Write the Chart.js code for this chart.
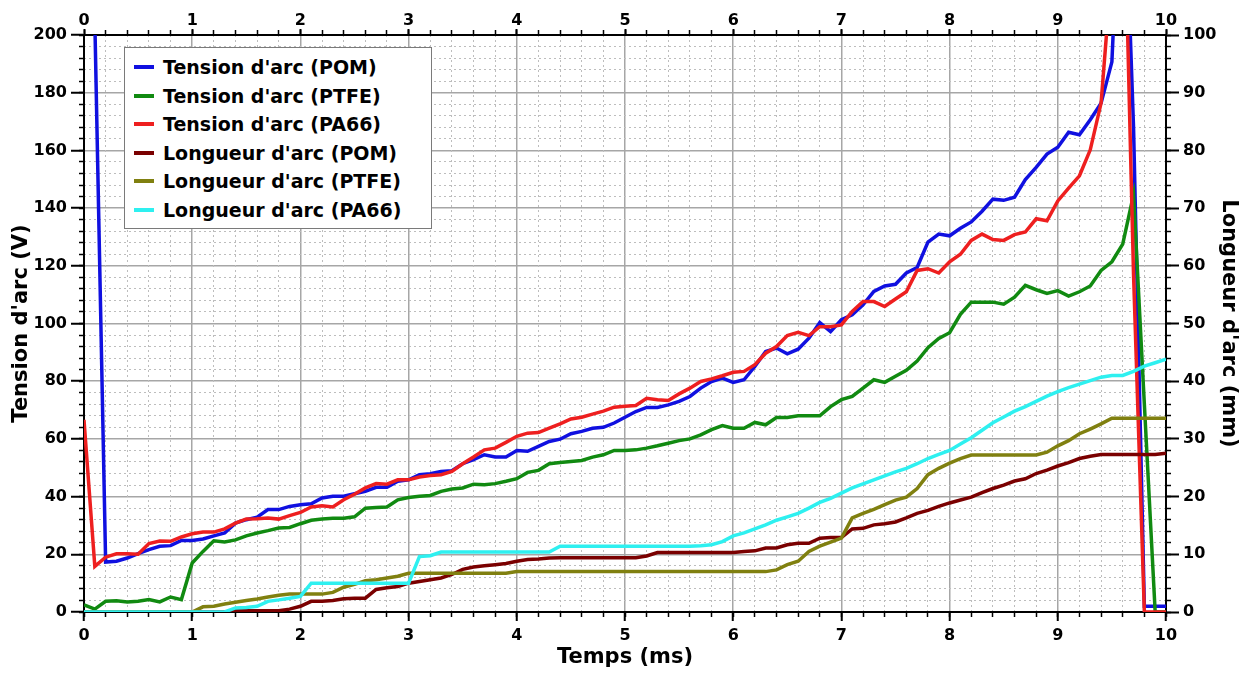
<!DOCTYPE html>
<html>
<head>
<meta charset="utf-8">
<script src="https://cdn.jsdelivr.net/npm/chart.js@4/dist/chart.umd.min.js"></script>
<style>
  html, body { margin: 0; padding: 0; background: #fff; }
  #wrap { position: relative; width: 1242px; height: 674px; }
  #legend {
    position: absolute; left: 124px; top: 47px; width: 308px; height: 182px;
    box-sizing: border-box; border: 1.5px solid #7a7a7a; background: #fff;
    padding-top: 5px; font: bold 19px 'DejaVu Sans', sans-serif; color: #000;
  }
  .item { position: relative; height: 28.6px; line-height: 28.6px; padding-left: 38px; white-space: nowrap; }
  .swatch { position: absolute; left: 9px; top: 12px; width: 20px; height: 4px; }
</style>
</head>
<body>
<div id="wrap">
  <canvas id="arc-chart"></canvas>
  <div id="legend"></div>
</div>
<script>
// Temps (ms)
const times = [
  0, 0.1, 0.2, 0.3, 0.4, 0.5, 0.6, 0.7, 0.8, 0.9,
  1, 1.1, 1.2, 1.3, 1.4, 1.5, 1.6, 1.7, 1.8, 1.9,
  2, 2.1, 2.2, 2.3, 2.4, 2.5, 2.6, 2.7, 2.8, 2.9,
  3, 3.1, 3.2, 3.3, 3.4, 3.5, 3.6, 3.7, 3.8, 3.9,
  4, 4.1, 4.2, 4.3, 4.4, 4.5, 4.6, 4.7, 4.8, 4.9,
  5, 5.1, 5.2, 5.3, 5.4, 5.5, 5.6, 5.7, 5.8, 5.9,
  6, 6.1, 6.2, 6.3, 6.4, 6.5, 6.6, 6.7, 6.8, 6.9,
  7, 7.1, 7.2, 7.3, 7.4, 7.5, 7.6, 7.7, 7.8, 7.9,
  8, 8.1, 8.2, 8.3, 8.4, 8.5, 8.6, 8.7, 8.8, 8.9,
  9, 9.1, 9.2, 9.3, 9.4, 9.5, 9.6, 9.7, 9.8, 9.9,
  10
];

// Tension d'arc (V)
const tensionPOM = [
  240, 205, 17.3, 17.6, 18.7, 20.2, 21.6, 22.8, 23, 24.8,
  24.8, 25.3, 26.4, 27.4, 30.8, 32, 32.9, 35.5, 35.5, 36.6,
  37.2, 37.5, 39.5, 40.1, 40.1, 41, 41.8, 43.2, 43.2, 45.3,
  45.8, 47.6, 47.9, 48.7, 49, 51.4, 52.8, 54.5, 53.7, 53.7,
  56, 55.7, 57.4, 59.1, 59.9, 61.8, 62.6, 63.7, 64, 65.5,
  67.5, 69.5, 70.9, 70.9, 71.8, 73, 74.7, 77.6, 79.9, 81.1,
  79.6, 80.5, 85.1, 90.3, 91.5, 89.5, 91.1, 94.9, 100.3, 97.2,
  101.3, 103, 106.5, 111.1, 113, 113.6, 117.5, 119.4, 128.2, 131,
  130.4, 133, 135.2, 138.9, 143.1, 142.7, 143.8, 149.9, 154.1, 158.7,
  161.1, 166.3, 165.4, 170.6, 176.4, 190.7, 275, 168, 2, 2,
  2
];
const tensionPTFE = [
  2.5, 1, 3.7, 3.9, 3.5, 3.7, 4.3, 3.5, 5.2, 4.3,
  17, 21, 24.7, 24.3, 25, 26.4, 27.4, 28.2, 29.1, 29.3,
  30.6, 31.8, 32.2, 32.5, 32.5, 33, 36, 36.2, 36.4, 38.9,
  39.7, 40.1, 40.4, 41.8, 42.6, 43, 44.3, 44.1, 44.5, 45.3,
  46.2, 48.4, 49.1, 51.4, 51.8, 52.2, 52.5, 53.7, 54.5, 56,
  56, 56.2, 56.8, 57.6, 58.5, 59.4, 60, 61.4, 63.2, 64.6,
  63.7, 63.7, 65.7, 64.9, 67.4, 67.4, 68, 68, 68, 71.2,
  73.6, 74.7, 77.6, 80.5, 79.6, 81.7, 83.8, 87, 91.6, 94.8,
  96.8, 103.2, 107.4, 107.4, 107.4, 106.7, 109.1, 113.2, 111.7, 110.4,
  111.4, 109.5, 111, 113, 118.4, 121.4, 127.5, 144.7, 72, 0,
  0
];
const tensionPA66 = [
  66.6, 15.8, 19, 20.2, 20.2, 20, 23.7, 24.6, 24.5, 26,
  27.1, 27.7, 27.7, 28.8, 30.8, 32.2, 32.3, 32.6, 32.2, 33.4,
  34.5, 36.4, 36.8, 36.4, 38.9, 40.8, 43, 44.5, 44.3, 45.8,
  45.8, 46.8, 47.3, 47.6, 48.7, 51.4, 53.7, 56.2, 56.8, 58.8,
  60.9, 62, 62.2, 63.7, 65.2, 66.9, 67.5, 68.6, 69.6, 71,
  71.3, 71.6, 74.1, 73.6, 73.3, 75.6, 77.6, 79.9, 80.8, 81.9,
  83.1, 83.4, 85.7, 89.7, 92, 95.8, 96.9, 95.8, 98.9, 98.9,
  99.5, 104.2, 107.6, 107.6, 105.9, 108.5, 111, 118.4, 119, 117.5,
  121.4, 124, 128.8, 131, 129.1, 128.8, 130.8, 131.7, 136.3, 135.6,
  142.5, 146.9, 151.2, 160.2, 176.4, 224, 270, 117, 0, 0,
  0
];

// Longueur d'arc (mm)
const longueurPOM = [
  0, 0, 0, 0, 0, 0, 0, 0, 0, 0,
  0, 0, 0, 0, 0.2, 0.2, 0.2, 0.2, 0.2, 0.5,
  1, 1.85, 1.85, 2, 2.3, 2.4, 2.4, 3.9, 4.2, 4.4,
  5, 5.3, 5.6, 5.9, 6.5, 7.4, 7.8, 8, 8.2, 8.4,
  8.8, 9.1, 9.2, 9.35, 9.4, 9.4, 9.4, 9.4, 9.4, 9.4,
  9.4, 9.4, 9.7, 10.3, 10.3, 10.3, 10.3, 10.3, 10.3, 10.3,
  10.3, 10.5, 10.6, 11.1, 11.1, 11.65, 11.9, 11.9, 12.8, 12.9,
  12.9, 14.4, 14.5, 15.1, 15.3, 15.6, 16.3, 17.1, 17.6, 18.3,
  18.9, 19.4, 19.9, 20.7, 21.4, 22, 22.7, 23.1, 24, 24.6,
  25.3, 25.9, 26.6, 27, 27.3, 27.3, 27.3, 27.3, 27.3, 27.3,
  27.5
];
const longueurPTFE = [
  0, 0, 0, 0, 0, 0, 0, 0, 0, 0,
  0, 0.9, 1, 1.4, 1.7, 2, 2.25, 2.6, 2.9, 3.1,
  3.1, 3.1, 3.1, 3.4, 4.3, 4.8, 5.4, 5.6, 5.9, 6.2,
  6.7, 6.7, 6.7, 6.7, 6.7, 6.7, 6.7, 6.7, 6.7, 6.7,
  7, 7, 7, 7, 7, 7, 7, 7, 7, 7,
  7, 7, 7, 7, 7, 7, 7, 7, 7, 7,
  7, 7, 7, 7, 7.3, 8.2, 8.8, 10.5, 11.4, 12.1,
  12.8, 16.3, 17.1, 17.8, 18.6, 19.4, 19.9, 21.4, 23.8, 24.9,
  25.8, 26.6, 27.2, 27.2, 27.2, 27.2, 27.2, 27.2, 27.2, 27.7,
  28.8, 29.7, 30.9, 31.7, 32.6, 33.6, 33.6, 33.6, 33.6, 33.6,
  33.6
];
const longueurPA66 = [
  0, 0, 0, 0, 0, 0, 0, 0, 0, 0,
  0, 0, 0, 0, 0.7, 0.8, 1, 1.85, 2.1, 2.4,
  2.7, 5, 5, 5, 5, 5, 5, 5, 5, 5,
  5, 9.6, 9.75, 10.4, 10.4, 10.4, 10.4, 10.4, 10.4, 10.4,
  10.4, 10.4, 10.4, 10.4, 11.4, 11.4, 11.4, 11.4, 11.4, 11.4,
  11.4, 11.4, 11.4, 11.4, 11.4, 11.4, 11.4, 11.5, 11.65, 12.2,
  13.2, 13.7, 14.4, 15.1, 15.9, 16.5, 17.1, 18, 19, 19.7,
  20.6, 21.5, 22.2, 22.9, 23.6, 24.3, 24.9, 25.7, 26.6, 27.3,
  28, 29.1, 30.2, 31.5, 32.8, 33.8, 34.8, 35.6, 36.5, 37.4,
  38.2, 38.9, 39.5, 40.1, 40.7, 41, 41, 41.7, 42.6, 43.2,
  43.8
];

const seriesLabels = [
  "Tension d'arc (POM)", "Tension d'arc (PTFE)", "Tension d'arc (PA66)",
  "Longueur d'arc (POM)", "Longueur d'arc (PTFE)", "Longueur d'arc (PA66)"
];
const seriesValues = [tensionPOM, tensionPTFE, tensionPA66, longueurPOM, longueurPTFE, longueurPA66];
const seriesAxes = ['y', 'y', 'y', 'y2', 'y2', 'y2'];
const seriesColors = ['#1010e0', '#118a11', '#ee1f1f', '#7a0000', '#808010', '#2ef0f0'];

const FONT = 'DejaVu Sans';
const tickFont = { family: FONT, size: 16, weight: 'bold' };
const titleFont = { family: FONT, size: 21, weight: 'bold' };
const majorGrid = '#a6a6a6';
const minorGrid = '#bdbdbd';

function isWhole(v) {
  return Math.abs(v - Math.round(v)) < 1e-6;
}

// helper for the axes carrying only minor grid lines / minor tick marks
function minorAxis(position, max, step, onArea) {
  const horizontal = position === 'top' || position === 'bottom';
  return {
    type: 'linear', position, min: 0, max, weight: 0,
    ticks: { display: false, stepSize: step, maxTicksLimit: 200, autoSkip: false },
    grid: {
      drawOnChartArea: onArea,
      color: ctx => (ctx.tick && isWhole(ctx.tick.value / (step * 5))) ? 'rgba(0,0,0,0)' : minorGrid,
      lineWidth: 1,
      tickLength: 5,
      tickColor: '#000',
      tickWidth: 1.5
    },
    border: { display: false, dash: [2, 3] },
    afterFit: s => { if (horizontal) s.height = 0; else s.width = 0; }
  };
}

const datasets = seriesLabels.map((label, i) => ({
  label,
  data: times.map((t, j) => ({ x: t, y: seriesValues[i][j] })),
  yAxisID: seriesAxes[i],
  xAxisID: 'x',
  borderColor: seriesColors[i],
  backgroundColor: seriesColors[i],
  borderWidth: 3.5,
  pointRadius: 0,
  tension: 0,
  order: 10 - i
}));

const ctx = document.getElementById('arc-chart').getContext('2d');
const chart = new Chart(ctx, {
  type: 'line',
  data: { datasets },
  options: {
    responsive: true,
    maintainAspectRatio: false,
    animation: false,
    layout: { padding: 0, autoPadding: false },
    plugins: { legend: { display: false }, tooltip: { enabled: false } },
    scales: {
      x: {
        type: 'linear', position: 'bottom', min: 0, max: 10, weight: 10,
        ticks: { stepSize: 1, font: tickFont, color: '#000', padding: 5, autoSkip: false, maxRotation: 0 },
        grid: { color: majorGrid, lineWidth: 1.5, tickLength: 9, tickColor: '#000', tickWidth: 2 },
        border: { color: '#000', width: 2 },
        title: { display: true, text: 'Temps (ms)', font: titleFont, color: '#000', padding: { top: 0, bottom: 4 } },
        afterFit: s => { s.height = 62; }
      },
      xTop: {
        type: 'linear', position: 'top', min: 0, max: 10, weight: 10,
        ticks: { stepSize: 1, font: tickFont, color: '#000', padding: -1, autoSkip: false, maxRotation: 0 },
        grid: { drawOnChartArea: false, tickLength: 6, tickColor: '#000', tickWidth: 2 },
        border: { color: '#000', width: 2 },
        afterFit: s => { s.height = 35; }
      },
      y: {
        type: 'linear', position: 'left', min: 0, max: 200, weight: 10,
        ticks: { stepSize: 20, font: tickFont, color: '#000', padding: 4 },
        grid: { color: majorGrid, lineWidth: 1.5, tickLength: 13, tickColor: '#000', tickWidth: 2 },
        border: { color: '#000', width: 2 },
        title: { display: true, text: "Tension d'arc (V)", font: titleFont, color: '#000', padding: { top: 9, bottom: 0 } },
        afterFit: s => { s.width = 84; }
      },
      y2: {
        type: 'linear', position: 'right', min: 0, max: 100, weight: 10,
        ticks: { stepSize: 10, font: tickFont, color: '#000', padding: 4 },
        grid: { drawOnChartArea: false, tickLength: 13, tickColor: '#000', tickWidth: 2 },
        border: { color: '#000', width: 2 },
        title: { display: true, text: "Longueur d'arc (mm)", font: titleFont, color: '#000', padding: { top: 1, bottom: 0 } },
        afterFit: s => { s.width = 76; }
      },
      xMinor: minorAxis('bottom', 10, 0.2, true),
      xTopMinor: minorAxis('top', 10, 0.2, false),
      yMinor: minorAxis('left', 200, 4, true),
      y2Minor: minorAxis('right', 100, 2, false)
    }
  }
});

// HTML legend built from the datasets
const legendEl = document.getElementById('legend');
legendEl.innerHTML = chart.data.datasets.map(ds => `
  <div class="item"><span class="swatch" style="background:${ds.borderColor}"></span>${ds.label}</div>
`).join('');
</script>
</body>
</html>
